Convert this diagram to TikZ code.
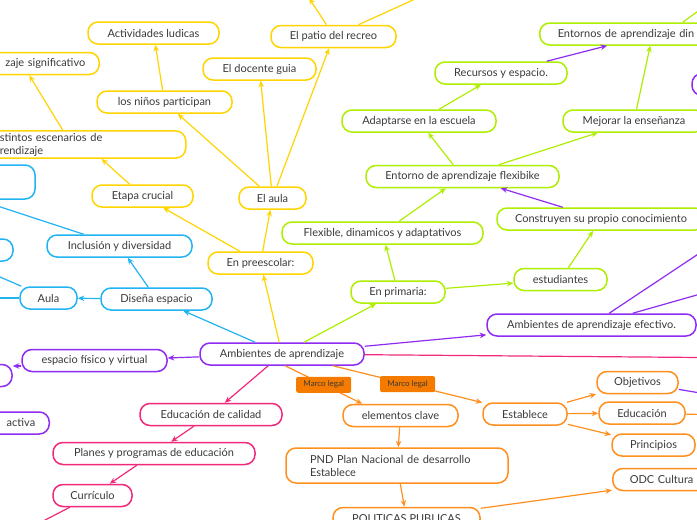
\documentclass[tikz,border=0pt]{standalone}
\usepackage{fontspec}
\setmainfont{Lato}
\usepackage{xcolor}
\usepackage{tikz}
\usetikzlibrary{arrows.meta}
\definecolor{mmyellow}{HTML}{FFD400}
\definecolor{mmgreen}{HTML}{AEEE00}
\definecolor{mmblue}{HTML}{22B4F2}
\definecolor{mmpurple}{HTML}{8F2CF2}
\definecolor{mmpink}{HTML}{F2297A}
\definecolor{mmorange}{HTML}{FF8F1F}
\definecolor{mmtag}{HTML}{F57A00}
\definecolor{mmtext}{HTML}{3A3A3A}
\tikzset{
  mm/.style={rectangle, rounded corners=10pt, line width=1.5pt, fill=white,
             minimum height=22pt, inner xsep=14pt, inner ysep=2pt, align=center,
             text=mmtext, font=\fontsize{11}{13}\selectfont},
  ybox/.style={mm, draw=mmyellow},
  gbox/.style={mm, draw=mmgreen},
  bbox/.style={mm, draw=mmblue},
  pbox/.style={mm, draw=mmpurple},
  rbox/.style={mm, draw=mmpink},
  obox/.style={mm, draw=mmorange},
  tag/.style={rectangle, rounded corners=2pt, fill=mmtag, text=mmtext,
              minimum width=55pt, minimum height=16pt, inner sep=1pt,
              font=\fontsize{8}{9}\selectfont},
  arr/.style={-{Stealth[length=6.5pt, width=5.5pt]}, line width=1.2pt},
  yarr/.style={arr, draw=mmyellow},
  garr/.style={arr, draw=mmgreen},
  barr/.style={arr, draw=mmblue},
  parr/.style={arr, draw=mmpurple},
  rarr/.style={arr, draw=mmpink},
  oarr/.style={arr, draw=mmorange},
}
\begin{document}
\begin{tikzpicture}[x=1pt, y=-1pt]
  \useasboundingbox (0,0) rectangle (697,520);
  \clip (0,0) rectangle (697,520);
  \fill[white] (0,0) rectangle (697,520);

  %% === Centre ===
  \node[pbox, minimum width=164pt] (amb) at (282,354) {Ambientes de aprendizaje};

  %% === En preescolar (yellow) ===
  \node[ybox, minimum width=105pt] (pre)  at (260.5,263) {En preescolar:};
  \node[ybox, minimum width=101pt] (eta)  at (142.5,196) {Etapa crucial};
  \node[ybox, minimum width=67pt]  (aula) at (272.5,198) {El aula};
  \node[ybox, anchor=west, minimum width=200pt, text width=172pt, align=left]
        (esc) at (-15,144.5) {stintos escenarios de\\rendizaje};
  \node[ybox, anchor=east, minimum width=130pt, text width=102pt, align=right]
        (sig) at (100,63.5) {zaje significativo};
  \node[ybox, minimum width=135pt] (nin)  at (164.5,102) {los niños participan};
  \node[ybox, minimum width=131pt] (act)  at (153.5,33)  {Actividades ludicas};
  \node[ybox, minimum width=113pt] (doc)  at (259.5,69)  {El docente guia};
  \node[ybox, minimum width=125pt] (patio) at (333.5,36.5) {El patio del recreo};

  %% === En primaria (green) ===
  \node[gbox, minimum width=94pt]  (pri) at (398,292)     {En primaria:};
  \node[gbox, minimum width=201pt] (flx) at (382.5,233)   {Flexible, dinamicos y adaptativos};
  \node[gbox, minimum width=193pt] (flk) at (462.5,176.5) {Entorno de aprendizaje flexibike};
  \node[gbox, minimum width=154pt] (ada) at (419,121)     {Adaptarse en la escuela};
  \node[gbox, minimum width=132pt] (rec) at (501,73)      {Recursos y espacio.};
  \node[gbox, minimum width=142pt] (mej) at (634,121)     {Mejorar la enseñanza};
  \node[gbox, anchor=west, minimum width=220pt, text width=190pt, align=left,
        inner xsep=18pt] (ent) at (539,34) {Entornos de aprendizaje din};
  \node[gbox, minimum width=93pt]  (est) at (560.5,279.5) {estudiantes};
  \node[gbox, minimum width=208pt] (con) at (601,219)     {Construyen su propio conocimiento};

  %% === Espacio (blue) ===
  \node[bbox, minimum width=111pt] (dis)  at (156.5,299) {Diseña espacio};
  \node[bbox, minimum width=57pt]  (aulb) at (48.5,298)  {Aula};
  \node[bbox, minimum width=145pt] (inc)  at (119.5,246) {Inclusión y diversidad};
  \node[bbox, minimum width=115pt, minimum height=34pt] (bla) at (-22.5,182) {};
  \node[bbox, minimum width=73pt] (blb) at (-23.5,250) {};

  %% === Purple branch ===
  \node[pbox, minimum width=145pt] (esp) at (94.5,360.5) {espacio físico y virtual};
  \node[pbox, minimum width=72pt]  (pl)  at (-24,375.5) {};
  \node[pbox, anchor=east, minimum width=110pt, text width=84pt, align=right]
        (actv) at (50,423) {activa};
  \node[pbox, minimum width=209pt] (aae) at (591.5,325) {Ambientes de aprendizaje efectivo.};
  \node[pbox, minimum width=68pt]  (pr)  at (726,84.5) {};

  %% === Pink branch ===
  \node[rbox, minimum width=142pt] (cal) at (211,414.5) {Educación de calidad};
  \node[rbox, minimum width=202pt] (pla) at (154,453.5) {Planes y programas de educación};
  \node[rbox, minimum width=79pt]  (cur) at (92.5,495.5) {Currículo};

  %% === Marco legal (orange) ===
  \node[obox, minimum width=115pt] (ele) at (400.5,415.5) {elementos clave};
  \node[obox, minimum width=222pt, minimum height=35pt, text width=174pt,
        align=left, inner xsep=24pt] (pnd) at (397,465.5)
        {PND Plan Nacional de desarrollo\\Establece};
  \node[obox, minimum width=147pt] (pol)  at (406.5,518.5) {POLITICAS PUBLICAS};
  \node[obox, minimum width=84pt]  (est2) at (525,414)     {Establece};
  \node[obox, minimum width=81pt]  (obj)  at (637.5,382.5) {Objetivos};
  \node[obox, minimum width=86pt]  (edu)  at (642,413)     {Educación};
  \node[obox, minimum width=83pt]  (prin) at (653.5,445)   {Principios};
  \node[obox, anchor=west, minimum width=150pt, text width=120pt, align=left,
        inner xsep=17pt] (odc) at (612,479.5) {ODC Cultura d};

  %% off-canvas ends
  \coordinate (patioup)    at (309,-2);
  \coordinate (patioright) at (435,-10);
  \coordinate (entup)      at (730,-12);
  \coordinate (incleft)    at (-30,197);
  \coordinate (aulaup)     at (-30,264);
  \coordinate (aulaleft)   at (-30,298);
  \coordinate (aaeup)      at (760,213);
  \coordinate (aaeright)   at (760,277);
  \coordinate (ambright)   at (760,358);
  \coordinate (objright)   at (760,403);
  \coordinate (eduright)   at (760,416);
  \coordinate (curdown)    at (20,533);

  %% === Yellow arrows ===
  \draw[yarr] (amb)  -- (pre);
  \draw[yarr] (pre)  -- (eta);
  \draw[yarr] (pre)  -- (aula);
  \draw[yarr] (eta)  -- (esc);
  \draw[yarr] ([xshift=-23pt]esc.north) -- ([xshift=-5pt]sig.south);
  \draw[yarr] (aula) -- (nin);
  \draw[yarr] (aula) -- (doc);
  \draw[yarr] (aula) -- (patio);
  \draw[yarr] (nin)  -- (act);
  \draw[yarr] ([xshift=-7pt]patio.north) -- (patioup);
  \draw[yarr] ([xshift=25pt]patio.north) -- (patioright);

  %% === Green arrows ===
  \draw[garr] (amb) -- (pri);
  \draw[garr] (pri) -- (flx);
  \draw[garr] (pri) -- (est);
  \draw[garr] (flx) -- (flk);
  \draw[garr] (flk) -- (ada);
  \draw[garr] (flk) -- (mej);
  \draw[garr] (ada) -- (rec);
  \draw[garr] (mej) -- (ent);
  \draw[garr] (est) -- (con);
  \draw[garr] ([xshift=30pt]ent.north) -- (entup);
  \draw[parr] (rec) -- (ent);
  \draw[parr] (con) -- (flk);

  %% === Blue arrows ===
  \draw[barr] (amb)  -- (dis);
  \draw[barr] (dis)  -- (aulb);
  \draw[barr] (dis)  -- (inc);
  \draw[barr] (inc)  -- (incleft);
  \draw[barr] (aulb) -- (aulaup);
  \draw[barr] (aulb) -- (aulaleft);

  %% === Purple arrows ===
  \draw[parr] (amb) -- (esp);
  \draw[parr] ([yshift=-5.5pt]esp.west) -- ([yshift=9.5pt]pl.east);
  \draw[parr] (amb) -- (aae);
  \draw[parr] (aae) -- (aaeup);
  \draw[parr] (aae) -- (aaeright);
  \draw[parr] (obj) -- (objright);

  %% === Pink arrows ===
  \draw[rarr] (amb) -- (ambright);
  \draw[rarr] (amb) -- (cal);
  \draw[rarr] (cal) -- (pla);
  \draw[rarr] (pla) -- (cur);
  \draw[rarr] (cur) -- (curdown);

  %% === Orange arrows ===
  \draw[oarr] (amb.-75) -- node[tag]{Marco legal} ([xshift=20pt]ele.north west);
  \draw[oarr] (amb.-13) -- node[tag]{Marco legal} (est2.165);
  \draw[oarr] (ele)  -- (pnd);
  \draw[oarr] (pnd)  -- (pol);
  \draw[oarr] (pol)  -- (odc);
  \draw[oarr] (est2) -- (obj);
  \draw[oarr] (est2) -- (edu);
  \draw[oarr] (est2) -- (prin);
  \draw[oarr] (edu)  -- (eduright);
\end{tikzpicture}
\end{document}
